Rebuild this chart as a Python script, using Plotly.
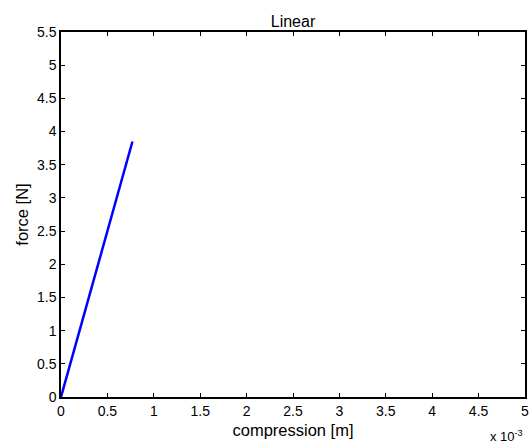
import plotly.graph_objects as go

# Spring data: compression in metres, force in newtons
compression = [0.0, 0.00077]
force = [0.0, 3.85]

x_ticks = [0, 0.0005, 0.001, 0.0015, 0.002, 0.0025, 0.003, 0.0035, 0.004, 0.0045, 0.005]
x_tick_labels = ["0", "0.5", "1", "1.5", "2", "2.5", "3", "3.5", "4", "4.5", "5"]
y_ticks = [0, 0.5, 1, 1.5, 2, 2.5, 3, 3.5, 4, 4.5, 5, 5.5]
y_tick_labels = ["0", "0.5", "1", "1.5", "2", "2.5", "3", "3.5", "4", "4.5", "5", "5.5"]

font_family = "Liberation Sans, Arial, sans-serif"

fig = go.Figure()
fig.add_trace(go.Scatter(
    x=compression, y=force, mode="lines",
    line=dict(color="#0000ff", width=2.5),
    showlegend=False,
))

axis_common = dict(
    showgrid=False, zeroline=False,
    showline=True, linecolor="black", linewidth=1.5, mirror="ticks",
    ticks="inside", ticklen=4, tickwidth=1, tickcolor="black",
    tickfont=dict(family=font_family, size=14, color="black"),
)

fig.update_layout(
    width=532, height=446,
    margin=dict(l=61, r=3, t=32, b=49),
    paper_bgcolor="white", plot_bgcolor="white",
    title=dict(text="Linear", x=0.5, xanchor="center", xref="paper",
               y=1, yref="paper", yanchor="bottom", pad=dict(b=5),
               font=dict(family=font_family, size=16, color="black")),
    xaxis=dict(range=[0, 0.005], tickvals=x_ticks, ticktext=x_tick_labels,
               title=dict(text="compression [m]", standoff=7,
                          font=dict(family=font_family, size=16.5, color="black")),
               **axis_common),
    yaxis=dict(range=[0, 5.5], tickvals=y_ticks, ticktext=y_tick_labels,
               title=dict(text="force [N]", standoff=4,
                          font=dict(family=font_family, size=16.5, color="black")),
               **axis_common),
)

fig.add_annotation(
    text="x 10<sup>-3</sup>", xref="paper", yref="paper",
    x=1.0, y=-0.106, xanchor="right", yanchor="middle", showarrow=False,
    font=dict(family=font_family, size=13, color="black"),
)

fig.write_html("out.html")
